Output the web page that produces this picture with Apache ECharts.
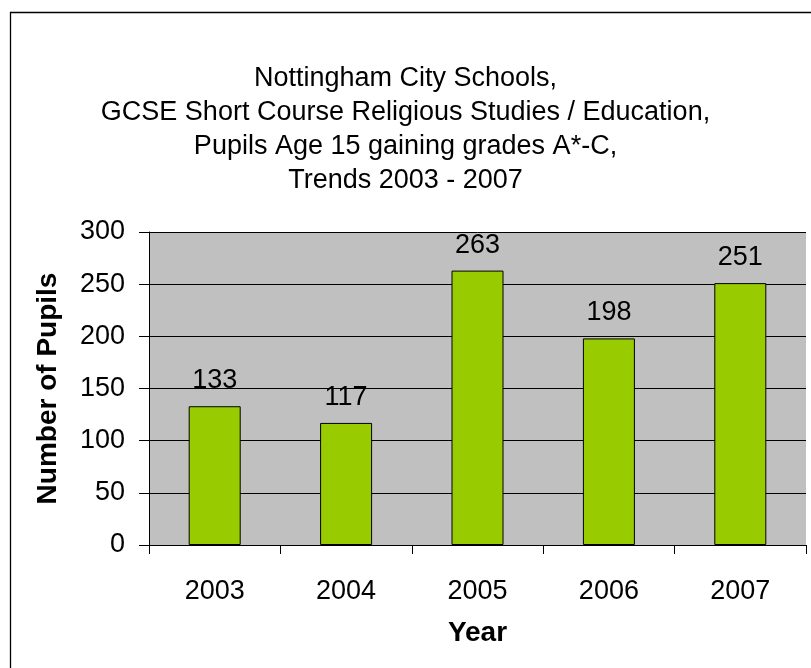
<!DOCTYPE html>
<html>
<head>
<meta charset="utf-8">
<script src="https://cdn.jsdelivr.net/npm/echarts@6/dist/echarts.min.js"></script>
<style>
html,body{margin:0;padding:0;background:#fff;}
#chart{width:811px;height:668px;}
</style>
</head>
<body>
<div id="chart"></div>
<script>
const titleLines = [
  "Nottingham City Schools,",
  "GCSE Short Course Religious Studies / Education,",
  "Pupils Age 15 gaining grades A*-C,",
  "Trends 2003 - 2007"
];
const years = ["2003", "2004", "2005", "2006", "2007"];
const pupils = [133, 117, 263, 198, 251];
const yTicks = { min: 0, max: 300, interval: 50 };

const FONT = "Liberation Sans, Arial, sans-serif";
const chart = echarts.init(document.getElementById('chart'), null, {renderer: 'canvas'});
chart.setOption({
  animation: false,
  backgroundColor: '#fff',
  graphic: [{
    type: 'rect', left: 8, top: 10, silent: true,
    shape: {x: 0, y: 0, width: 900, height: 800},
    style: {fill: 'none', stroke: '#000', lineWidth: 1.3}
  }],
  title: {
    text: titleLines.join('\n'),
    left: 'center', top: 57,
    textStyle: {fontFamily: FONT, fontSize: 27, fontWeight: 'normal', color: '#000', lineHeight: 34}
  },
  grid: {left: 149, top: 232, width: 657, height: 313, containLabel: false,
    show: true, backgroundColor: '#c0c0c0', borderWidth: 0},
  xAxis: {
    type: 'category', data: years,
    name: 'Year', nameLocation: 'middle', nameGap: 74,
    nameTextStyle: {fontFamily: FONT, fontSize: 28, fontWeight: 'bold', color: '#000'},
    axisLine: {show: true, lineStyle: {color: '#000', width: 1}},
    axisTick: {show: true, length: 9, lineStyle: {color: '#000'}},
    axisLabel: {fontFamily: FONT, fontSize: 27, color: '#000', margin: 33},
    splitLine: {show: false}
  },
  yAxis: {
    type: 'value', min: yTicks.min, max: yTicks.max, interval: yTicks.interval,
    name: 'Number of Pupils', nameLocation: 'middle', nameGap: 87,
    nameTextStyle: {fontFamily: FONT, fontSize: 28, fontWeight: 'bold', color: '#000'},
    axisLine: {show: true, lineStyle: {color: '#000', width: 1}},
    axisTick: {show: true, length: 10, lineStyle: {color: '#000'}},
    axisLabel: {fontFamily: FONT, fontSize: 27, color: '#000', margin: 24},
    splitLine: {show: true, lineStyle: {color: '#000', width: 1}}
  },
  series: [{
    type: 'bar', data: pupils, barWidth: 52,
    itemStyle: {color: '#99cc00', borderColor: '#000', borderWidth: 1},
    label: {show: true, position: 'top', distance: 12,
      fontFamily: FONT, fontSize: 27, color: '#000'}
  }]
});
</script>
</body>
</html>
